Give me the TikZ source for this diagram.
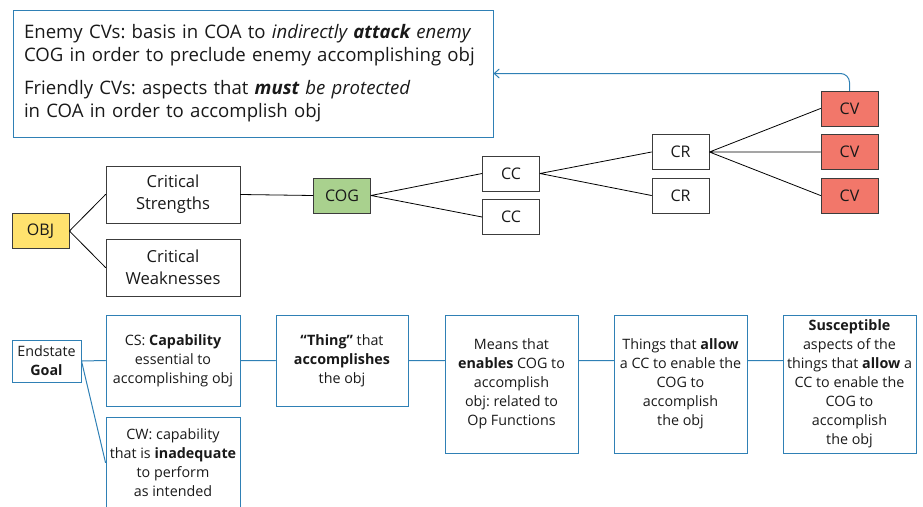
\documentclass[tikz,border=0pt]{standalone}
\usepackage{fontspec}
\setmainfont{Open Sans}
\frenchspacing
\usetikzlibrary{arrows.meta}
\definecolor{linkblue}{HTML}{2F80B5}
\definecolor{edgegray}{HTML}{3C3C3C}
\definecolor{objyellow}{HTML}{FFE26E}
\definecolor{coggreen}{HTML}{A9D18E}
\definecolor{cvred}{HTML}{F2776A}
\tikzset{
  box/.style={draw=edgegray,line width=.9pt,fill=white,align=center,inner sep=0pt,minimum width=134pt,minimum height=57pt,font=\fontsize{16.6}{22}\selectfont,text=black!90},
  tag/.style={box,minimum width=57pt,minimum height=35pt,font=\fontsize{16}{22}\selectfont},
  defbox/.style={draw=linkblue,line width=1pt,align=center,inner sep=0pt,minimum width=133pt,font=\fontsize{14.3}{19}\selectfont,text=black!90},
  link/.style={line width=.8pt},
  deflink/.style={draw=linkblue,line width=1pt}
}
\begin{document}
\begin{tikzpicture}[x=1pt,y=-1pt,line cap=round]
  \path[use as bounding box,clip] (0,0) rectangle (923,506);
  % upper part: the note and the tree
  \node[draw=linkblue,line width=1pt,minimum width=480pt,minimum height=127pt,inner xsep=11pt,inner ysep=0pt,text width=458pt,align=left,font=\fontsize{18.6}{23}\selectfont,text=black!90] (note) at (253,73.5) {Enemy CVs: basis in COA to \textit{indirectly \textbf{attack} enemy}\\COG in order to preclude enemy accomplishing obj\\[10pt]Friendly CVs: aspects that \textit{\textbf{must} be protected}\\in COA in order to accomplish obj};
  \node[tag,fill=objyellow] (obj) at (40.5,231) {OBJ};
  \node[box] (cs) at (173,194.5) {Critical\\Strengths}; \node[box] (cw) at (173,267.5) {Critical\\Weaknesses};
  \node[tag,fill=coggreen] (cog) at (342,195.5) {COG};
  \node[tag] (cc1) at (511,173.5) {CC}; \node[tag] (cc2) at (511,217) {CC};
  \node[tag] (cr1) at (680.5,152) {CR}; \node[tag] (cr2) at (680.5,195.5) {CR};
  \node[tag,fill=cvred] (cv1) at (849.5,108.5) {CV}; \node[tag,fill=cvred] (cv2) at (849.5,152) {CV}; \node[tag,fill=cvred] (cv3) at (849.5,195.5) {CV};
  \draw[link] (obj.east)--(cs.west) (obj.east)--(cw.west) (cs.east)--(cog.west) (cog.east)--(cc1.west) (cog.east)--(cc2.west) (cc1.east)--(cr1.west) (cc1.east)--(cr2.west) (cr1.east)--(cv1.west) (cr1.east)--(cv2.west) (cr1.east)--(cv3.west);
  \draw[deflink,-{Straight Barb[length=5pt,width=9pt]},rounded corners=9pt] (cv1.north)|-(note.east);
  % lower part: what each one means
  \node[defbox,minimum width=69pt,minimum height=42pt] (goal) at (46.5,361) {Endstate\\\textbf{Goal}};
  \node[defbox,minimum width=134pt,minimum height=91pt] (csdef) at (173,360.5) {CS: \textbf{Capability}\\essential to\\accomplishing obj};
  \node[defbox,minimum width=134pt,minimum height=91pt] (cwdef) at (173,462.5) {CW: capability\\that is \textbf{inadequate}\\to perform\\as intended};
  \node[defbox,minimum width=132pt,minimum height=91pt] (cogdef) at (342,360.5) {\textbf{“Thing”} that\\\textbf{accomplishes}\\the obj};
  \node[defbox,minimum height=138pt] (ccdef) at (511.5,384) {Means that\\\textbf{enables} COG to\\accomplish\\obj: related to\\Op Functions};
  \node[defbox,minimum height=138pt] (crdef) at (680.5,384) {Things that \textbf{allow}\\a CC to enable the\\COG to\\accomplish\\the obj};
  \node[defbox,minimum height=138pt] (cvdef) at (849.5,384) {\textbf{Susceptible}\\aspects of the\\things that \textbf{allow} a\\CC to enable the\\COG to\\accomplish\\the obj};
  \draw[deflink] (goal.east)--(csdef.west) (goal.east)--(cwdef.west) (csdef.east)--(cogdef.west) (cogdef.east)--(cogdef.east-|ccdef.west) (ccdef.east|-cogdef.east)--(cogdef.east-|crdef.west) (crdef.east|-cogdef.east)--(cogdef.east-|cvdef.west);
\end{tikzpicture}
\end{document}
